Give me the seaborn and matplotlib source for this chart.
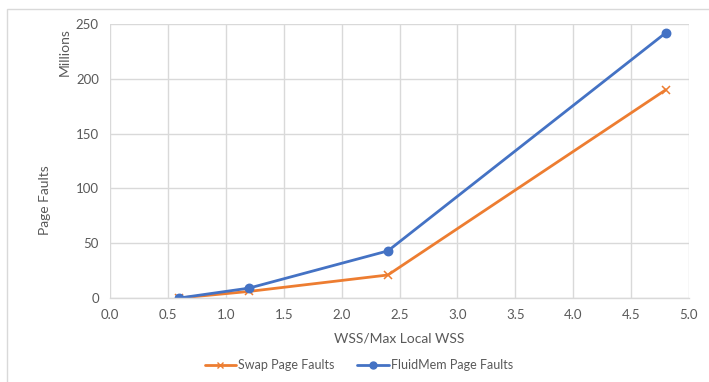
import matplotlib
matplotlib.use("Agg")
import matplotlib.pyplot as plt
import seaborn as sns
import pandas as pd
from matplotlib.patches import Rectangle
from matplotlib.lines import Line2D

# Ratio of working set size to max local WSS
wss_ratio = [0.6, 1.2, 2.4, 4.8]
# Page faults, in millions
swap_faults = [0.0, 6.0, 21.0, 190.0]
fluidmem_faults = [0.0, 9.0, 43.0, 242.0]

x_ticks = [0.0, 0.5, 1.0, 1.5, 2.0, 2.5, 3.0, 3.5, 4.0, 4.5, 5.0]
y_ticks = [0, 50, 100, 150, 200, 250]

series = ["Swap Page Faults", "FluidMem Page Faults"]
values = {series[0]: swap_faults, series[1]: fluidmem_faults}

sns.set_theme(style="white")
plt.rcParams["font.family"] = ["Lato", "DejaVu Sans"]

text_color = "#595959"
grid_color = "#D9D9D9"
palette = {series[0]: "#ED7D31", series[1]: "#4472C4"}
markers = {series[0]: "x", series[1]: "o"}

fig = plt.figure(figsize=(7.09, 3.82), dpi=100)
ax = fig.add_axes([110 / 709, 84 / 382, 579 / 709, 274 / 382])

for s in series:
    df = pd.DataFrame({"ratio": wss_ratio, "faults": values[s]})
    sns.lineplot(data=df, x="ratio", y="faults", color=palette[s],
                 marker=markers[s], linewidth=2, markersize=6,
                 markeredgewidth=1.1, markeredgecolor=palette[s], ax=ax)

ax.set_xlim(0, 5)
ax.set_ylim(0, 250)
ax.set_xticks(x_ticks)
ax.set_xticklabels([f"{v:.1f}" for v in x_ticks])
ax.set_yticks(y_ticks)
ax.set_yticklabels([str(v) for v in y_ticks])
ax.tick_params(axis="both", length=0, labelsize=9.5, colors=text_color, pad=8)
ax.grid(True, color=grid_color, linewidth=1)
ax.set_axisbelow(True)
for side, sp in ax.spines.items():
    sp.set_visible(side == "bottom")
    sp.set_color(grid_color)
    sp.set_linewidth(1)

ax.set_xlabel("WSS/Max Local WSS", fontsize=10, color=text_color, labelpad=8)
ax.set_ylabel("")
fig.text(45 / 709, 1 - 200 / 382, "Page Faults", rotation=90, fontsize=10,
         color=text_color, ha="center", va="center")
fig.text(65 / 709, 1 - 52 / 382, "Millions", rotation=90, fontsize=10,
         color=text_color, ha="center", va="center")

handles = [Line2D([], [], color=palette[s], marker=markers[s], linewidth=2,
                  markersize=5, markeredgewidth=1.0, markeredgecolor=palette[s])
           for s in series]
fig.legend(handles, series, loc="center", bbox_to_anchor=(359 / 709, 1 - 365 / 382),
           ncol=2, frameon=False, fontsize=9, labelcolor=text_color,
           handlelength=2.5, handletextpad=0.2, columnspacing=1.8)

# chart area border
fig.patches.append(Rectangle((7 / 709, -0.05), 1.0, 1 - 9 / 382 + 0.05,
                             transform=fig.transFigure, fill=False,
                             edgecolor=grid_color, linewidth=1))

fig.savefig("out.png", dpi=100, facecolor="white")
